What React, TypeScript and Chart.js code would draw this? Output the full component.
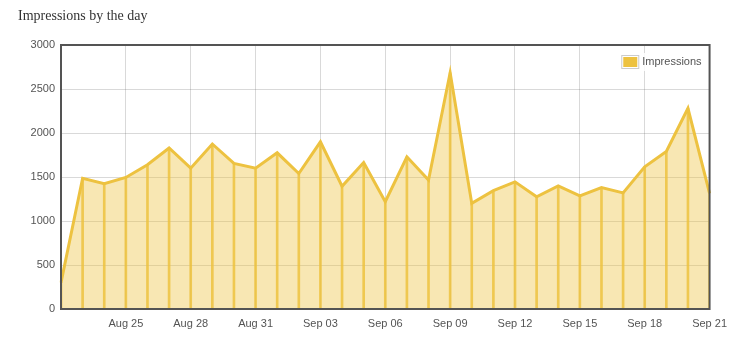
import React, { useEffect, useRef } from "react";
import { Chart, registerables } from "chart.js";

Chart.register(...registerables);

const categories = [
  "Aug 22", "Aug 23", "Aug 24", "Aug 25", "Aug 26", "Aug 27", "Aug 28", "Aug 29", "Aug 30", "Aug 31",
  "Sep 01", "Sep 02", "Sep 03", "Sep 04", "Sep 05", "Sep 06", "Sep 07", "Sep 08", "Sep 09", "Sep 10",
  "Sep 11", "Sep 12", "Sep 13", "Sep 14", "Sep 15", "Sep 16", "Sep 17", "Sep 18", "Sep 19", "Sep 20",
  "Sep 21",
];

const impressions = [
  300, 1485, 1425, 1495, 1640, 1830, 1600, 1875, 1655, 1600,
  1775, 1540, 1900, 1395, 1665, 1220, 1730, 1465, 2685, 1200,
  1345, 1445, 1275, 1400, 1285, 1380, 1320, 1615, 1790, 2280,
  1315,
];

const seriesLabel = "Impressions";
const titleText = "Impressions by the day";
const yMin = 0;
const yMax = 3000;
const yStep = 500;
const xTickEvery = 3;

const GOLD = "#EDC240";
const GRID = "rgba(84,84,84,0.22)";
const TEXT = "#545454";
const SANS = "'Liberation Sans', Arial, Helvetica, sans-serif";

const frameAndLegend = {
  id: "frameAndLegend",
  afterDatasetsDraw(chart: any) {
    const { ctx, chartArea: a } = chart;
    ctx.save();
    // frame
    ctx.strokeStyle = TEXT;
    ctx.lineWidth = 2;
    ctx.strokeRect(a.left, a.top, a.right - a.left, a.bottom - a.top);
    // legend
    const label = chart.data.datasets[0].label;
    ctx.font = `11px ${SANS}`;
    const tw = ctx.measureText(label).width;
    const tx = a.right - 8 - tw;
    const cy = a.top + 17;
    const bx = tx - 21;
    const by = cy - 7;
    ctx.fillStyle = "rgba(255,255,255,0.85)";
    ctx.fillRect(bx - 2, by - 2, tw + 27, 18);
    ctx.strokeStyle = "#cccccc";
    ctx.lineWidth = 1;
    ctx.strokeRect(bx + 0.5, by + 0.5, 17, 13);
    ctx.fillStyle = GOLD;
    ctx.fillRect(bx + 2, by + 2, 14, 10);
    ctx.fillStyle = TEXT;
    ctx.textBaseline = "middle";
    ctx.textAlign = "left";
    ctx.fillText(label, tx, cy);
    ctx.restore();
  },
};

export default function App() {
  const canvasRef = useRef<HTMLCanvasElement | null>(null);

  useEffect(() => {
    if (!canvasRef.current) return;
    const chart = new Chart(canvasRef.current, {
      type: "line",
      data: {
        labels: categories,
        datasets: [
          {
            type: "line",
            label: seriesLabel,
            data: impressions,
            borderColor: GOLD,
            borderWidth: 3,
            backgroundColor: "rgba(237,194,64,0.4)",
            fill: "origin",
            pointRadius: 0,
            tension: 0,
            order: 0,
          },
          {
            type: "bar",
            label: seriesLabel + " bars",
            data: impressions,
            backgroundColor: "rgba(237,194,64,0.85)",
            borderWidth: 0,
            barThickness: 2,
            order: 1,
          },
        ],
      } as any,
      options: {
        animation: false,
        responsive: false,
        layout: { padding: { top: 37, right: 23, left: 0, bottom: 0 } },
        plugins: {
          legend: { display: false },
          tooltip: { enabled: false },
          title: { display: false },
        },
        scales: {
          x: {
            type: "category",
            offset: false,
            grid: {
              offset: false,
              drawTicks: false,
              color: (c: any) => (c.index % xTickEvery === 0 ? GRID : "rgba(0,0,0,0)"),
              lineWidth: 1,
            },
            border: { display: false },
            ticks: {
              autoSkip: false,
              maxRotation: 0,
              minRotation: 0,
              padding: 8,
              color: TEXT,
              font: { family: SANS, size: 11 },
              callback: (_v: any, i: number) =>
                i % xTickEvery === 0 && i > 0 ? categories[i] : "",
            },
            afterFit: (s: any) => {
              s.height = 33;
            },
          },
          y: {
            min: yMin,
            max: yMax,
            grid: { drawTicks: false, color: GRID, lineWidth: 1 },
            border: { display: false },
            ticks: {
              stepSize: yStep,
              padding: 6,
              color: TEXT,
              font: { family: SANS, size: 11 },
              callback: (v: any) => String(v),
            },
            afterFit: (s: any) => {
              s.width = 53;
            },
          },
        },
      } as any,
      plugins: [frameAndLegend],
    });
    return () => chart.destroy();
  }, []);

  return (
    <div style={{ position: "relative", width: 727, height: 334 }}>
      <canvas ref={canvasRef} width={727} height={334} style={{ display: "block" }} />
      <div
        style={{
          position: "absolute",
          left: 10,
          top: 0,
          fontFamily: "'Liberation Serif', 'Times New Roman', serif",
          fontSize: 14,
          color: "#333",
          whiteSpace: "nowrap",
        }}
      >
        {titleText}
      </div>
    </div>
  );
}
